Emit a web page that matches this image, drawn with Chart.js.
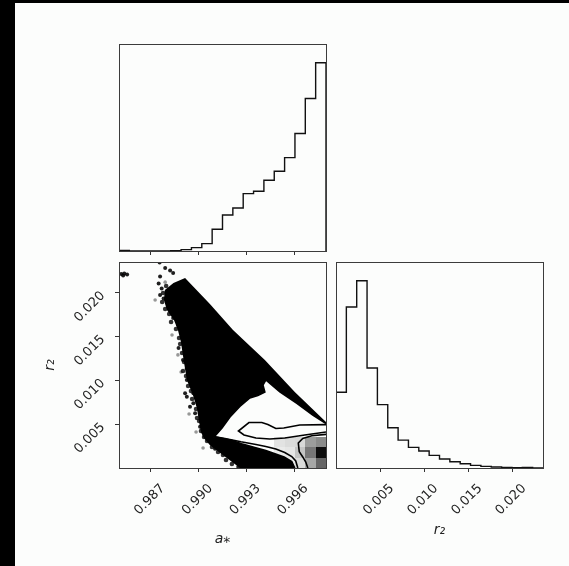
<!DOCTYPE html>
<html>
<head>
<meta charset="utf-8">
<script src="https://cdn.jsdelivr.net/npm/chart.js@4.4.1/dist/chart.umd.min.js"></script>
<style>
html, body { margin: 0; padding: 0; background: #000; }
#fig { position: relative; width: 569px; height: 566px; background: #000; overflow: hidden; }
#paper { position: absolute; left: 15px; top: 3px; width: 554px; height: 563px; background: #fcfdfc; }
canvas { position: absolute; }
#cTop { left: 110px; top: 30px; width: 225px; height: 240px; }
#cJoint { left: 20px; top: 250px; width: 316px; height: 316px; }
#cRight { left: 320px; top: 250px; width: 249px; height: 316px; }
</style>
</head>
<body>
<div id="fig">
  <div id="paper"></div>
  <canvas id="cTop" width="225" height="240"></canvas>
  <canvas id="cJoint" width="316" height="316"></canvas>
  <canvas id="cRight" width="249" height="316"></canvas>
</div>
<script>
// ---- parameter ranges, binning and ticks ----
const aRange = [0.985, 0.998];      // a*
const rRange = [0, 0.0235];         // r2
const nBins = 20;
const aTicks = [0.987, 0.990, 0.993, 0.996];
const rTicks = [0.005, 0.010, 0.015, 0.020];

// ---- 1D marginal histograms (counts per bin) ----
const aCounts = [2, 0, 0, 0, 0, 1, 4, 10, 22, 65, 108, 129, 172, 179, 212, 239, 280, 352, 457, 564];
const rCounts = [228, 485, 564, 301, 191, 121, 84, 62, 51, 38, 27, 19, 13, 8, 5, 3, 2, 1, 2, 0.5];

// ---- 2D panel: outline of the dense sample cloud (a*, r2) ----
const cloudEdge = [
  [0.98915, 0.02168], [0.99071, 0.01871], [0.99216, 0.01574], [0.99416, 0.01232],
  [0.99604, 0.00867], [0.99800, 0.00525], [0.99800, 0], [0.99260, 0],
  [0.99227, 0.00046], [0.99177, 0.00114], [0.99127, 0.00183], [0.99070, 0.00262],
  [0.99033, 0.00342], [0.99014, 0.00411], [0.99001, 0.00548], [0.98989, 0.00685],
  [0.98964, 0.00833], [0.98926, 0.01004], [0.98914, 0.01141], [0.98901, 0.01289],
  [0.98889, 0.01437], [0.98870, 0.01574], [0.98845, 0.01688], [0.98801, 0.01803],
  [0.98782, 0.01917], [0.98788, 0.02031], [0.98842, 0.02111]
];

// region inside the outermost contour level
const innerLevel = [
  [0.99800, 0.00508], [0.99717, 0.00605], [0.99617, 0.00738], [0.99510, 0.00870],
  [0.99422, 0.01004], [0.99404, 0.00947], [0.99416, 0.00867], [0.99372, 0.00827],
  [0.99322, 0.00799], [0.99259, 0.00702], [0.99197, 0.00582], [0.99147, 0.00456],
  [0.99109, 0.00377], [0.99090, 0.00354], [0.99122, 0.00348], [0.99207, 0.00316],
  [0.99270, 0.00277], [0.99353, 0.00234], [0.99422, 0.00200], [0.99537, 0.00126],
  [0.99585, 0.00074], [0.99604, 0], [0.99800, 0]
];

// higher contour levels
const tongueLevel = [
  [0.99800, 0.00495], [0.99635, 0.00491], [0.99535, 0.00456], [0.99485, 0.00451],
  [0.99435, 0.00496], [0.99397, 0.00519], [0.99316, 0.00519], [0.99250, 0.00422],
  [0.99285, 0.00377], [0.99360, 0.00342], [0.99447, 0.00331], [0.99541, 0.00342],
  [0.99667, 0.00377], [0.99800, 0.00411]
];
const lowerLevel = [
  [0.99097, 0.00359], [0.99165, 0.00337], [0.99266, 0.00299], [0.99360, 0.00268],
  [0.99422, 0.00245], [0.99485, 0.00217], [0.99541, 0.00177], [0.99585, 0.00131],
  [0.99610, 0.00080], [0.99623, 0]
];
const coreLevel = [
  [0.99800, 0.00384], [0.99711, 0.00367], [0.99654, 0.00337], [0.99626, 0.00285],
  [0.99632, 0.00186], [0.99654, 0.00126], [0.99673, 0.00068], [0.99686, 0]
];

// isolated samples around the cloud
const dotA = [0.98514, 0.98533, 0.98551, 0.98526, 0.98755, 0.98790, 0.98821, 0.98840, 0.98758, 0.98749,
              0.98768, 0.98758, 0.98780, 0.98808, 0.98840, 0.98871, 0.98893, 0.98874, 0.98902, 0.98915,
              0.98926, 0.98915, 0.98926, 0.98967, 0.98978, 0.98946, 0.99009, 0.98967, 0.99092, 0.99134,
              0.99103, 0.99186, 0.99197, 0.99228, 0.99249, 0.99071, 0.98926, 0.98858, 0.98827];
const dotR = [0.02213, 0.02219, 0.02207, 0.02196, 0.02344, 0.02282, 0.02253, 0.02225, 0.02185, 0.02105,
              0.02048, 0.01974, 0.01934, 0.01842, 0.01711, 0.01631, 0.01552, 0.01369, 0.01232, 0.01329,
              0.01137, 0.00852, 0.01004, 0.00738, 0.00624, 0.00699, 0.00471, 0.00852, 0.00282, 0.00259,
              0.00220, 0.00191, 0.00129, 0.00091, 0.00015, 0.00414, 0.00813, 0.02019, 0.01917];

// samples straddling the ragged left edge of the cloud
const edgeA = [0.98796, 0.98777, 0.98771, 0.98790, 0.98815, 0.98827, 0.98858, 0.98877, 0.98884, 0.98896,
               0.98909, 0.98902, 0.98921, 0.98934, 0.98952, 0.98959, 0.98984, 0.98990, 0.99003, 0.99015,
               0.99034, 0.99053, 0.99084, 0.99122, 0.99153, 0.99172, 0.99209];
const edgeR = [0.02076, 0.01996, 0.01894, 0.01814, 0.01757, 0.01666, 0.01586, 0.01483, 0.01415, 0.01312,
               0.01209, 0.01107, 0.01050, 0.00935, 0.00878, 0.00787, 0.00673, 0.00570, 0.00536, 0.00422,
               0.00354, 0.00308, 0.00240, 0.00183, 0.00148, 0.00091, 0.00046];

// faint, sparse samples a little further out
const faintA = [0.98727, 0.98833, 0.98890, 0.98940, 0.98984, 0.99028, 0.98790, 0.98870];
const faintR = [0.01917, 0.01517, 0.01095, 0.00616, 0.00411, 0.00228, 0.02120, 0.01290];

// 2D density cells near the peak (lower-left corner of each bin, darkness 0..1)
const cellA = [0.99475, 0.99540, 0.99605, 0.99670, 0.99735];
const cellR = [0, 0.001175, 0.00235];
const cellShade = [
  [0.05, 0.07, 0.13, 0.34, 0.60],
  [0.07, 0.09, 0.22, 0.53, 0.95],
  [0.10, 0.13, 0.14, 0.38, 0.45]
];

// ---- helpers ----
const paper = '#fcfdfc';
const ink = '#222';
const tickFont = { family: "'DejaVu Sans', sans-serif", size: 13 };
const titleFont = { family: "'DejaVu Sans', sans-serif", size: 14, style: 'italic' };

function stepPoints(counts, range) {
  const w = (range[1] - range[0]) / counts.length;
  const pts = [{ x: range[0], y: 0 }];
  counts.forEach((c, i) => {
    pts.push({ x: range[0] + i * w, y: c });
    pts.push({ x: range[0] + (i + 1) * w, y: c });
  });
  pts.push({ x: range[1], y: 0 });
  return pts;
}
const toXY = arr => arr.map(p => ({ x: p[0], y: p[1] }));
const zip = (xs, ys) => xs.map((v, i) => ({ x: v, y: ys[i] }));

function zeroPad(s) { s.paddingLeft = 0; s.paddingRight = 0; s.paddingTop = 0; s.paddingBottom = 0; }

function bottomAxis(range, ticks, labels, title, titlePad) {
  return {
    type: 'linear', position: 'bottom', min: range[0], max: range[1], bounds: 'data',
    afterBuildTicks: s => { s.ticks = ticks.map(v => ({ value: v })); },
    afterFit: s => { s.height = labels ? 98 : 19; zeroPad(s); },
    ticks: {
      display: true, autoSkip: false, minRotation: 45, maxRotation: 45,
      padding: 9, labelOffset: 12, font: tickFont, color: ink,
      callback: v => labels ? v.toFixed(3) : ''
    },
    grid: { display: true, drawOnChartArea: false, drawTicks: true, tickLength: 4, color: '#333', lineWidth: 1 },
    border: { display: false },
    title: title ? { display: true, text: title, font: titleFont, color: ink, padding: { top: 0, bottom: titlePad } } : { display: false }
  };
}

const frame = {
  id: 'frame',
  afterDatasetsDraw(chart) {
    const { ctx, chartArea: a } = chart;
    const l = Math.round(a.left), t = Math.round(a.top), r = Math.round(a.right), b = Math.round(a.bottom);
    ctx.save();
    ctx.strokeStyle = '#3c3c3c';
    ctx.lineWidth = 1;
    ctx.strokeRect(l + 0.5, t + 0.5, r - l, b - t);
    ctx.restore();
  }
};

const jointLayers = {
  id: 'jointLayers',
  beforeDatasetsDraw(chart) {
    const { ctx, chartArea: a, scales: { x, y } } = chart;
    const poly = (pts, fill) => {
      ctx.beginPath();
      pts.forEach((p, i) => {
        const px = x.getPixelForValue(p[0]), py = y.getPixelForValue(p[1]);
        if (i === 0) ctx.moveTo(px, py); else ctx.lineTo(px, py);
      });
      ctx.closePath();
      ctx.fillStyle = fill;
      ctx.fill();
    };
    ctx.save();
    ctx.beginPath();
    ctx.rect(a.left, a.top, a.width, a.height);
    ctx.clip();
    poly(cloudEdge, '#000');
    poly(innerLevel, paper);
    const bw = (aRange[1] - aRange[0]) / nBins;
    const bh = (rRange[1] - rRange[0]) / nBins;
    cellShade.forEach((row, ri) => {
      row.forEach((v, ci) => {
        const x0 = Math.round(x.getPixelForValue(cellA[ci]));
        const x1 = Math.round(x.getPixelForValue(cellA[ci] + bw));
        const y0 = Math.round(y.getPixelForValue(cellR[ri]));
        const y1 = Math.round(y.getPixelForValue(cellR[ri] + bh));
        ctx.fillStyle = 'rgba(0,0,0,' + v + ')';
        ctx.fillRect(x0, y1, x1 - x0, y0 - y1);
      });
    });
    ctx.restore();
  }
};

const base = {
  responsive: false, animation: false, devicePixelRatio: 1, events: [],
  plugins: { legend: { display: false }, tooltip: { enabled: false } }
};

const histLine = { showLine: true, pointRadius: 0, borderColor: '#111', borderWidth: 1.4, fill: false, tension: 0 };

// ---- top: a* marginal ----
new Chart(document.getElementById('cTop'), {
  type: 'scatter',
  data: { datasets: [Object.assign({ data: stepPoints(aCounts, aRange) }, histLine)] },
  options: Object.assign({}, base, {
    layout: { autoPadding: false, padding: { left: 9, top: 14, right: 9, bottom: 0 } },
    scales: {
      x: bottomAxis(aRange, aTicks, false, null, 0),
      y: { display: false, min: 0, max: Math.max(...aCounts) * 1.1 }
    }
  }),
  plugins: [frame]
});

// ---- joint a* vs r2 ----
const lineStyle = { showLine: true, pointRadius: 0, borderColor: '#000', borderWidth: 1.6, fill: false, tension: 0 };
new Chart(document.getElementById('cJoint'), {
  type: 'scatter',
  data: {
    datasets: [
      Object.assign({ data: toXY(innerLevel.slice(0, -1)) }, lineStyle),
      Object.assign({ data: toXY(tongueLevel) }, lineStyle),
      Object.assign({ data: toXY(lowerLevel) }, lineStyle),
      Object.assign({ data: toXY(coreLevel) }, lineStyle),
      { data: zip(dotA, dotR), pointRadius: 2, pointBackgroundColor: 'rgba(0,0,0,0.88)', pointBorderWidth: 0, showLine: false },
      { data: zip(edgeA, edgeR), pointRadius: 2.3, pointBackgroundColor: 'rgba(0,0,0,0.8)', pointBorderWidth: 0, showLine: false },
      { data: zip(faintA, faintR), pointRadius: 1.8, pointBackgroundColor: 'rgba(0,0,0,0.4)', pointBorderWidth: 0, showLine: false }
    ]
  },
  options: Object.assign({}, base, {
    layout: { autoPadding: false, padding: { left: 0, top: 12, right: 10, bottom: 0 } },
    scales: {
      x: bottomAxis(aRange, aTicks, true, 'a\u204E', 18),
      y: {
        type: 'linear', position: 'left', min: rRange[0], max: rRange[1], bounds: 'data',
        afterBuildTicks: s => { s.ticks = rTicks.map(v => ({ value: v })); },
        afterFit: s => { s.width = 99; zeroPad(s); },
        ticks: {
          autoSkip: false, minRotation: 45, maxRotation: 45, padding: 12, labelOffset: 1,
          font: tickFont, color: ink, callback: v => v.toFixed(3)
        },
        grid: { display: true, drawOnChartArea: false, drawTicks: true, tickLength: 4, color: '#333', lineWidth: 1 },
        border: { display: false },
        title: { display: true, text: 'r\u2082', font: titleFont, color: ink, padding: { top: 22, bottom: 0 } }
      }
    }
  }),
  plugins: [jointLayers, frame]
});

// ---- right: r2 marginal ----
new Chart(document.getElementById('cRight'), {
  type: 'scatter',
  data: { datasets: [Object.assign({ data: stepPoints(rCounts, rRange) }, histLine)] },
  options: Object.assign({}, base, {
    layout: { autoPadding: false, padding: { left: 16, top: 12, right: 26, bottom: 0 } },
    scales: {
      x: bottomAxis(rRange, rTicks, true, 'r\u2082', 27),
      y: { display: false, min: 0, max: Math.max(...rCounts) * 1.1 }
    }
  }),
  plugins: [frame]
});
</script>
</body>
</html>
